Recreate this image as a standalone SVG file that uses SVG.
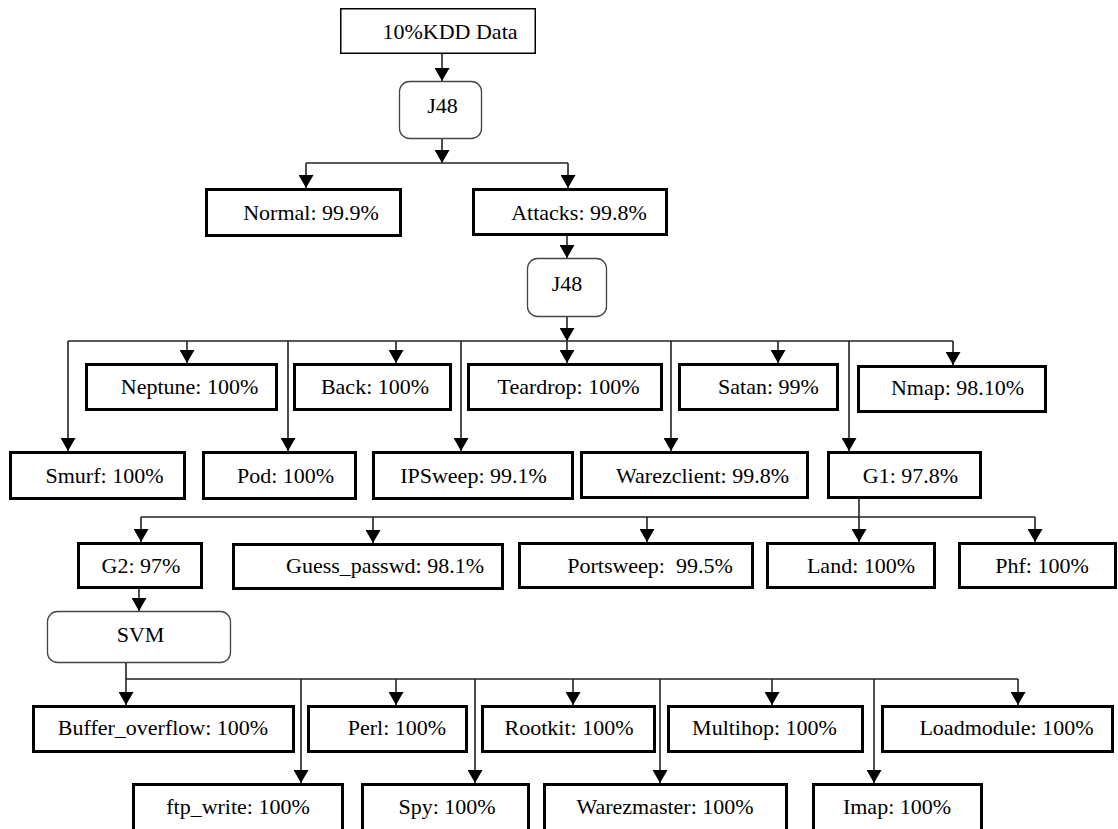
<svg xmlns="http://www.w3.org/2000/svg" width="1118" height="829" viewBox="0 0 1118 829">
<style>
.box{fill:#fff;stroke:#000;stroke-width:3}
.thin{fill:#fff;stroke:#000;stroke-width:1.5}
.rnd{fill:#fff;stroke:#444;stroke-width:1.3}
text{font-family:'Liberation Serif','Times New Roman',serif;font-size:22px;fill:#000;text-anchor:middle}
.c{fill:none;stroke:#222;stroke-width:1.6}
.a{marker-end:url(#ah)}
</style>
<defs>
<marker id="ah" markerUnits="userSpaceOnUse" markerWidth="13" markerHeight="15" refX="13" refY="7.5" orient="auto">
<path d="M0,0 L13,7.5 L0,15 z" fill="#000"/>
</marker>
</defs>
<rect width="1118" height="829" fill="#fff"/>
<g id="connectors">
<line class="c a" x1="442" y1="54" x2="442" y2="81"/>
<line class="c a" x1="442" y1="139" x2="442" y2="163"/>
<line class="c" x1="306" y1="163" x2="568" y2="163"/>
<line class="c a" x1="306" y1="163" x2="306" y2="188"/>
<line class="c a" x1="568" y1="163" x2="568" y2="188"/>
<line class="c a" x1="567" y1="236" x2="567" y2="258"/>
<line class="c a" x1="567" y1="317" x2="567" y2="341"/>
<line class="c" x1="68" y1="341" x2="953" y2="341"/>
<line class="c a" x1="68" y1="341" x2="68" y2="451"/>
<line class="c a" x1="187" y1="341" x2="187" y2="363"/>
<line class="c a" x1="288" y1="341" x2="288" y2="451"/>
<line class="c a" x1="396" y1="341" x2="396" y2="363"/>
<line class="c a" x1="461" y1="341" x2="461" y2="451"/>
<line class="c a" x1="567" y1="341" x2="567" y2="363"/>
<line class="c a" x1="671" y1="341" x2="671" y2="451"/>
<line class="c a" x1="778" y1="341" x2="778" y2="363"/>
<line class="c a" x1="849" y1="341" x2="849" y2="451"/>
<line class="c a" x1="953" y1="341" x2="953" y2="365"/>
<line class="c a" x1="859" y1="499" x2="859" y2="542"/>
<line class="c" x1="141" y1="517" x2="1035" y2="517"/>
<line class="c a" x1="141" y1="517" x2="141" y2="542"/>
<line class="c a" x1="373" y1="517" x2="373" y2="543"/>
<line class="c a" x1="647" y1="517" x2="647" y2="542"/>
<line class="c a" x1="1035" y1="517" x2="1035" y2="542"/>
<line class="c a" x1="139" y1="589" x2="139" y2="611"/>
<polyline class="c" points="126,663 126,679 1018,679"/>
<line class="c a" x1="126" y1="679" x2="126" y2="705"/>
<line class="c a" x1="301" y1="679" x2="301" y2="783"/>
<line class="c a" x1="396" y1="679" x2="396" y2="705"/>
<line class="c a" x1="475" y1="679" x2="475" y2="783"/>
<line class="c a" x1="573" y1="679" x2="573" y2="705"/>
<line class="c a" x1="660" y1="679" x2="660" y2="783"/>
<line class="c a" x1="772" y1="679" x2="772" y2="705"/>
<line class="c a" x1="874" y1="679" x2="874" y2="783"/>
<line class="c a" x1="1018" y1="679" x2="1018" y2="705"/>
</g>
<g id="kdd"><rect class="thin" x="340.75" y="8.75" width="194.5" height="44.5"/><text x="450" y="38.5">10%KDD Data</text></g>
<g id="j48a"><rect class="rnd" x="399.5" y="81.5" width="82" height="57" rx="10"/><text x="442.5" y="113">J48</text></g>
<g id="normal"><rect class="box" x="206.5" y="189.5" width="194" height="46"/><text x="311" y="220">Normal: 99.9%</text></g>
<g id="attacks"><rect class="box" x="473.5" y="189.5" width="193" height="45"/><text x="579" y="220">Attacks: 99.8%</text></g>
<g id="j48b"><rect class="rnd" x="527.5" y="258.5" width="79" height="58" rx="10"/><text x="567" y="291">J48</text></g>
<g id="neptune"><rect class="box" x="86.5" y="364.5" width="190" height="45"/><text x="189.5" y="394">Neptune: 100%</text></g>
<g id="back"><rect class="box" x="294.5" y="364.5" width="156" height="45"/><text x="375" y="394">Back: 100%</text></g>
<g id="teardrop"><rect class="box" x="468.5" y="364.5" width="193" height="45"/><text x="568.5" y="394">Teardrop: 100%</text></g>
<g id="satan"><rect class="box" x="679.5" y="364.5" width="158" height="45"/><text x="768.5" y="394">Satan: 99%</text></g>
<g id="nmap"><rect class="box" x="858.5" y="366.5" width="187" height="45"/><text x="957.5" y="395">Nmap: 98.10%</text></g>
<g id="smurf"><rect class="box" x="10.5" y="452.5" width="174" height="46"/><text x="104.5" y="483">Smurf: 100%</text></g>
<g id="pod"><rect class="box" x="203.5" y="452.5" width="152" height="46"/><text x="285.5" y="483">Pod: 100%</text></g>
<g id="ipsweep"><rect class="box" x="373.5" y="452.5" width="199" height="46"/><text x="473.5" y="483">IPSweep: 99.1%</text></g>
<g id="warezclient"><rect class="box" x="581.5" y="452.5" width="226" height="45"/><text x="702.5" y="483">Warezclient: 99.8%</text></g>
<g id="g1"><rect class="box" x="828.5" y="452.5" width="152" height="45"/><text x="910.5" y="483">G1: 97.8%</text></g>
<g id="g2"><rect class="box" x="78.5" y="543.5" width="123" height="44"/><text x="141" y="573">G2: 97%</text></g>
<g id="guess"><rect class="box" x="233.5" y="544.5" width="269" height="44"/><text x="385" y="573">Guess_passwd: 98.1%</text></g>
<g id="portsweep"><rect class="box" x="519.5" y="543.5" width="233" height="44"/><text x="650" y="573" xml:space="preserve">Portsweep:  99.5%</text></g>
<g id="land"><rect class="box" x="767.5" y="543.5" width="167" height="44"/><text x="861" y="573">Land: 100%</text></g>
<g id="phf"><rect class="box" x="959.5" y="543.5" width="156" height="44"/><text x="1042" y="573">Phf: 100%</text></g>
<g id="svm"><rect class="rnd" x="47.5" y="611.5" width="183" height="51" rx="10"/><text x="140.5" y="642">SVM</text></g>
<g id="buffer"><rect class="box" x="33.5" y="706.5" width="260" height="45"/><text x="163" y="735">Buffer_overflow: 100%</text></g>
<g id="perl"><rect class="box" x="308.5" y="706.5" width="158" height="45"/><text x="397" y="735">Perl: 100%</text></g>
<g id="rootkit"><rect class="box" x="482.5" y="706.5" width="172" height="45"/><text x="569" y="735">Rootkit: 100%</text></g>
<g id="multihop"><rect class="box" x="668.5" y="706.5" width="194" height="45"/><text x="764.5" y="735">Multihop: 100%</text></g>
<g id="loadmodule"><rect class="box" x="882.5" y="706.5" width="230" height="45"/><text x="1006.5" y="735">Loadmodule: 100%</text></g>
<g id="ftp"><rect class="box" x="133.5" y="784.5" width="209" height="47"/><text x="238" y="814">ftp_write: 100%</text></g>
<g id="spy"><rect class="box" x="362.5" y="784.5" width="166" height="47"/><text x="447" y="814">Spy: 100%</text></g>
<g id="warezmaster"><rect class="box" x="544.5" y="784.5" width="242" height="47"/><text x="665" y="814">Warezmaster: 100%</text></g>
<g id="imap"><rect class="box" x="813.5" y="784.5" width="168" height="47"/><text x="897" y="814">Imap: 100%</text></g>
</svg>
